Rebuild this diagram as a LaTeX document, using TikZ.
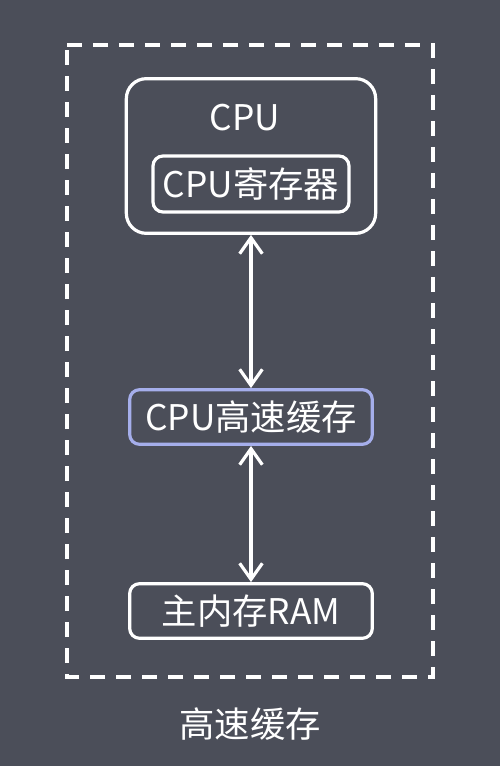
\documentclass[tikz,border=0pt]{standalone}
\usepackage{fontspec}
\setmainfont{Noto Sans CJK SC}
\usetikzlibrary{arrows.meta}

\definecolor{bgGray}{RGB}{75,78,89}
\definecolor{cacheBlue}{RGB}{165,174,235}

\tikzset{every picture/.style={line width=0.75pt}}
\tikzset{
  box/.style={draw=white, line width=2.4pt, rounded corners=7.5pt, inner sep=0pt, text=white},
  lbl/.style={text=white, inner sep=0.75pt, font=\fontsize{26.5}{31}\selectfont},
  link/.style={draw=white, line width=2.4pt, {Straight Barb[length=12pt,width=17pt]}-{Straight Barb[length=12pt,width=17pt]}}
}

\begin{document}
\begin{tikzpicture}[x=0.75pt,y=0.75pt,yscale=-1,xscale=1]
	%set diagram: 500 x 766
	\fill [bgGray] (0,0) rectangle (500,766);
	\useasboundingbox (0,0) rectangle (500,766);
	
	%Shape: Rectangle [id:dashedCache]
	\draw [white, line width=2.4pt, dash pattern={on 11.5pt off 8pt}] (67,45) -- (433,45) -- (433,677) -- (67,677) -- cycle ;
	
	%Shape: Rounded Rectangle [id:cpuBox]
	\node [box, rounded corners=15pt, minimum width=187pt, minimum height=116pt] (cpu) at (251,156) {};
	% Text Node
	\node [lbl] (cpuText) at (245,118) {CPU};
	%Shape: Rounded Rectangle [id:regBox]
	\node [box, minimum width=147pt, minimum height=42pt, lbl, inner sep=0pt] (reg) at (251,184) {CPU寄存器};
	
	%Shape: Rounded Rectangle [id:cacheBox]
	\node [box, draw=cacheBlue, minimum width=182pt, minimum height=41pt, lbl, inner sep=0pt] (cache) at (251,417) {CPU高速缓存};
	
	%Shape: Rounded Rectangle [id:ramBox]
	\node [box, minimum width=182pt, minimum height=41pt, lbl, inner sep=0pt] (ram) at (251,611) {主内存RAM};
	
	%Straight Lines [id:cpuToCache]
	\draw [link] (cpu.south) -- (cache.north) ;
	%Straight Lines [id:cacheToRam]
	\draw [link] (cache.south) -- (ram.north) ;
	
	% Text Node
	\node [lbl] (title) at (250,724) {高速缓存};
	
\end{tikzpicture}
\end{document}
